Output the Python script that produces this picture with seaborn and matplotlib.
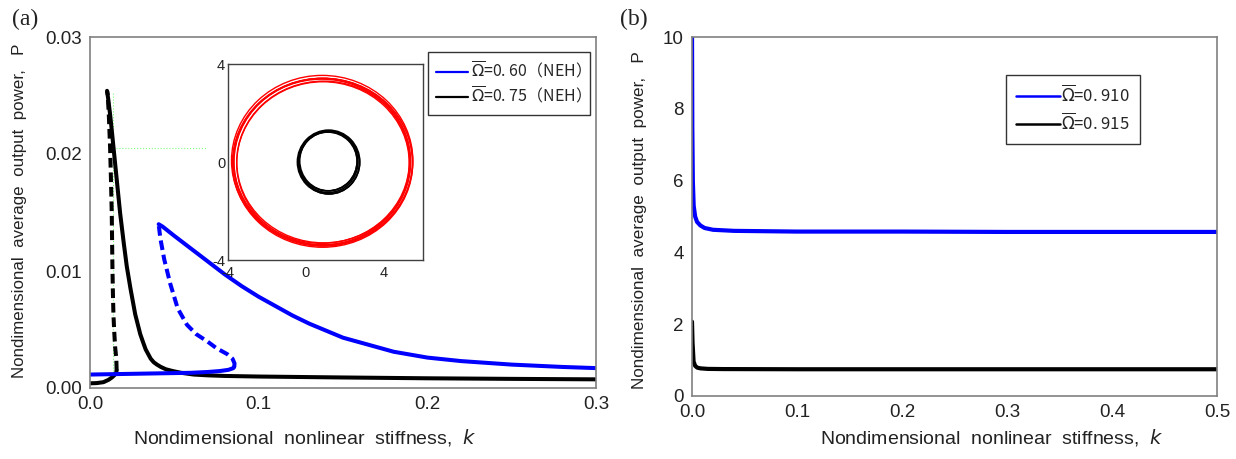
import numpy as np
import pandas as pd
import matplotlib
matplotlib.use("Agg")
import matplotlib.pyplot as plt
from matplotlib.patches import Ellipse
from matplotlib.lines import Line2D
import seaborn as sns

sns.set_theme(style="white")
plt.rcParams['font.family'] = ['Liberation Sans', 'Noto Sans CJK SC']
plt.rcParams['mathtext.fontset'] = 'dejavusans'

# ---------------- panel (a) data ----------------
# Omega = 0.75 (black)
k75_low = [0.0, 0.004, 0.008, 0.011, 0.013, 0.0145, 0.0155, 0.0158]
p75_low = [0.0004, 0.00042, 0.0005, 0.0007, 0.0009, 0.0011, 0.0013, 0.0015]
k75_dash = [0.0158, 0.0156, 0.0149, 0.0143, 0.0139, 0.0136, 0.0133, 0.0131, 0.0129,
            0.0124, 0.0119, 0.0112, 0.0105, 0.0101]
p75_dash = [0.0015, 0.0025, 0.0035, 0.0050, 0.0063, 0.0080, 0.0103, 0.0125, 0.0149,
            0.0180, 0.0206, 0.0232, 0.0251, 0.0254]
k75_up = [0.0101, 0.0108, 0.0119, 0.0130, 0.0139, 0.0160, 0.0179, 0.0200, 0.0218,
          0.0240, 0.0268, 0.0298, 0.0315, 0.0330, 0.0345, 0.0360, 0.0378, 0.0397,
          0.0420, 0.0450, 0.0490, 0.0540, 0.0615, 0.07, 0.08, 0.1, 0.15, 0.2, 0.25, 0.3]
p75_up = [0.0254, 0.0247, 0.0234, 0.0219, 0.0206, 0.0176, 0.0149, 0.0124, 0.0104,
          0.0085, 0.0063, 0.0046, 0.0039, 0.0033, 0.0029, 0.0025, 0.0022, 0.0020,
          0.0018, 0.0016, 0.00145, 0.0013, 0.00115, 0.00108, 0.00103, 0.00098, 0.0009,
          0.00083, 0.00078, 0.00074]

# Omega = 0.60 (blue)
k60_low = [0.0, 0.02, 0.04, 0.06, 0.07, 0.077, 0.082, 0.085, 0.0855]
p60_low = [0.00115, 0.0012, 0.00125, 0.0013, 0.00137, 0.00145, 0.00155, 0.0017, 0.0018]
k60_dash = [0.0855, 0.0857, 0.0845, 0.0813, 0.075, 0.0694, 0.063, 0.0575, 0.052,
            0.0476, 0.044, 0.0417, 0.0407]
p60_dash = [0.0018, 0.0021, 0.0025, 0.0029, 0.0034, 0.0040, 0.0046, 0.0054, 0.0068,
            0.0089, 0.0110, 0.0128, 0.0140]
k60_up = [0.0407, 0.043, 0.05, 0.06, 0.07, 0.08, 0.09, 0.10, 0.11, 0.12, 0.13, 0.14,
          0.15, 0.165, 0.18, 0.2, 0.22, 0.25, 0.28, 0.3]
p60_up = [0.0140, 0.0138, 0.0130, 0.0119, 0.0108, 0.0097, 0.0087, 0.0078, 0.0070,
          0.0062, 0.0055, 0.0049, 0.0043, 0.0037, 0.0031, 0.0026, 0.0023, 0.0020,
          0.0018, 0.0017]

# green guide lines
guide_k = [0.0139, 0.0139]
guide_p = [0.0012, 0.0252]
guide_hk = [0.0139, 0.0688]
guide_hp = [0.0205, 0.0205]

# inset orbits (center x, center y, width, height) for each loop
red_cx = [0.80, 0.85, 0.90, 0.83, 0.87, 0.82, 0.88]
red_cy = [0.03, -0.03, 0.0, 0.06, -0.05, 0.01, -0.01]
red_w = [9.00, 9.25, 8.90, 9.30, 8.85, 9.10, 9.15]
red_h = [6.70, 6.90, 6.60, 6.95, 6.65, 6.80, 6.85]
blk_cx = [1.12, 1.16, 1.15, 1.19, 1.14]
blk_cy = [0.02, 0.0, 0.05, -0.03, 0.0]
blk_w = [3.00, 3.20, 2.95, 3.10, 3.05]
blk_h = [2.40, 2.60, 2.45, 2.55, 2.50]

# ---------------- panel (b) data ----------------
kb_910 = [0.0, 0.0003, 0.0008, 0.0016, 0.003, 0.0048, 0.008, 0.012, 0.02, 0.04, 0.1, 0.2, 0.3, 0.5]
pb_910 = [10.2, 7.5, 6.0, 5.3, 5.0, 4.85, 4.75, 4.68, 4.63, 4.60, 4.58, 4.58, 4.57, 4.57]
kb_915 = [0.0, 0.0005, 0.0015, 0.003, 0.005, 0.008, 0.015, 0.03, 0.1, 0.2, 0.3, 0.5]
pb_915 = [2.07, 1.5, 0.96, 0.84, 0.79, 0.77, 0.755, 0.75, 0.745, 0.745, 0.745, 0.745]

xticks_a = [0.0, 0.1, 0.2, 0.3]
yticks_a = [0.00, 0.01, 0.02, 0.03]
xticks_b = [0.0, 0.1, 0.2, 0.3, 0.4, 0.5]
yticks_b = [0, 2, 4, 6, 8, 10]

labels_a = [r'$\overline{\Omega}$=0. 60（NEH）', r'$\overline{\Omega}$=0. 75（NEH）']
labels_b = [r'$\overline{\Omega}$=0. 910', r'$\overline{\Omega}$=0. 915']

BLUE = '#0000ff'
BLACK = '#000000'
SPINE = '#808080'
TXT = '#222222'
LW = 2.9

fig = plt.figure(figsize=(12.36, 4.59), dpi=100)
ax1 = fig.add_axes([90/1236, 71/459, 506/1236, 351/459])
ax2 = fig.add_axes([692/1236, 63/459, 525/1236, 359/459])


def seg(ax, k, p, color, dashed=False, lw=LW):
    df = pd.DataFrame({'k': k, 'P': p})
    sns.lineplot(data=df, x='k', y='P', ax=ax, sort=False, estimator=None,
                 color=color, lw=lw, legend=False)
    l = ax.lines[-1]
    if dashed:
        l.set_dashes((2.4, 1.2))
    l.set_solid_joinstyle('round')
    return l

# panel (a)
seg(ax1, guide_k, guide_p, '#7CFC7C', lw=0.8).set_linestyle(':')
seg(ax1, guide_hk, guide_hp, '#7CFC7C', lw=0.8).set_linestyle(':')
seg(ax1, k75_low, p75_low, BLACK)
seg(ax1, k75_up, p75_up, BLACK)
seg(ax1, k75_dash, p75_dash, BLACK, dashed=True)
seg(ax1, k60_low, p60_low, BLUE)
seg(ax1, k60_up, p60_up, BLUE)
seg(ax1, k60_dash, p60_dash, BLUE, dashed=True)

ax1.set_xlim(0, 0.3)
ax1.set_ylim(0, 0.03)
ax1.set_xticks(xticks_a)
ax1.set_xticklabels([f"{v:.1f}" for v in xticks_a])
ax1.set_yticks(yticks_a)
ax1.set_yticklabels([f"{v:.2f}" for v in yticks_a])

h1 = [Line2D([], [], color=BLUE, lw=1.6), Line2D([], [], color=BLACK, lw=1.6)]
leg1 = ax1.legend(h1, labels_a, loc='upper right', bbox_to_anchor=(0.988, 0.957),
                  prop={'family': 'Noto Sans CJK SC', 'size': 11.5},
                  frameon=True, fancybox=False, edgecolor='black', handlelength=2.0,
                  handletextpad=0.15, borderpad=0.5, labelspacing=0.3, borderaxespad=0)
leg1.get_frame().set_linewidth(1.0)

# inset
axin = fig.add_axes([228/1236, 199/459, 195/1236, 196/459])
for cx, cy, w, h in zip(red_cx, red_cy, red_w, red_h):
    axin.add_patch(Ellipse((cx, cy), w, h, fill=False, ec='#ff0000', lw=1.0))
for cx, cy, w, h in zip(blk_cx, blk_cy, blk_w, blk_h):
    axin.add_patch(Ellipse((cx, cy), w, h, fill=False, ec=BLACK, lw=1.2))
axin.set_xlim(-4, 6)
axin.set_ylim(-4, 4)
axin.set_xticks([-4, 0, 4])
axin.set_yticks([-4, 0, 4])
axin.set_xticklabels(['-4', '0', '4'])
axin.set_yticklabels(['-4', '0', '4'])
axin.tick_params(direction='in', length=3, width=0.8, color='#404040', labelsize=10.5,
                 labelcolor=TXT)
axin.tick_params(axis='x', pad=4)
axin.tick_params(axis='y', pad=2)
for s in axin.spines.values():
    s.set_color('#404040')
    s.set_linewidth(1.0)

# panel (b)
seg(ax2, kb_910, pb_910, BLUE, lw=3.0)
seg(ax2, kb_915, pb_915, BLACK, lw=3.0)
ax2.set_xlim(0, 0.5)
ax2.set_ylim(0, 10)
ax2.set_xticks(xticks_b)
ax2.set_xticklabels([f"{v:.1f}" for v in xticks_b])
ax2.set_yticks(yticks_b)
h2 = [Line2D([], [], color=BLUE, lw=1.8), Line2D([], [], color=BLACK, lw=1.8)]
leg2 = ax2.legend(h2, labels_b, loc='upper right', bbox_to_anchor=(0.853, 0.894),
                  prop={'family': 'Noto Sans CJK SC', 'size': 12},
                  frameon=True, fancybox=False, edgecolor='black', handlelength=2.6,
                  handletextpad=0.1, borderpad=0.6, labelspacing=0.4, borderaxespad=0)
leg2.get_frame().set_linewidth(1.0)

for ax in (ax1, ax2):
    ax.tick_params(direction='in', length=5, width=0.8, color=SPINE, labelsize=13.5,
                   labelcolor=TXT, pad=6)
    for s in ax.spines.values():
        s.set_color(SPINE)
        s.set_linewidth(1.2)
    ax.set_xlabel(r'Nondimensional  nonlinear  stiffness,  $\mathit{k}$', fontsize=14,
                  color=TXT)

ax1.set_ylabel('Nondimensional  average  output  power,   P', fontsize=12.2, color=TXT)
ax2.set_ylabel('Nondimensional  average  output  power,   P', fontsize=12.3, color=TXT)
ax1.xaxis.set_label_coords(0.425, -0.11)
ax1.yaxis.set_label_coords(-0.125, 0.505)
ax2.xaxis.set_label_coords(0.57, -0.085)
ax2.yaxis.set_label_coords(-0.085, 0.49)

fig.text(12/1236, 1 - 19/459, '(a)', family='Liberation Serif', fontsize=17, va='center',
         ha='left', color=TXT)
fig.text(620/1236, 1 - 19/459, '(b)', family='Liberation Serif', fontsize=17, va='center',
         ha='left', color=TXT)

fig.savefig('out.png', dpi=100)
